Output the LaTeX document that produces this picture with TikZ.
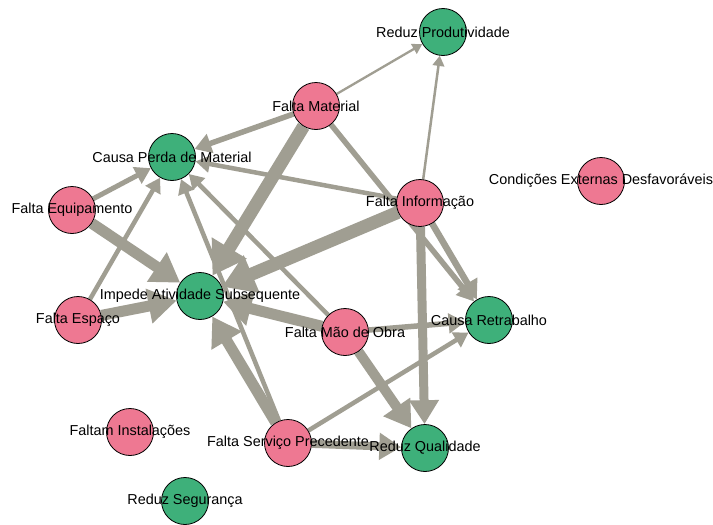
\documentclass[tikz,border=0pt]{standalone}
\usepackage{fontspec}
\setmainfont{Liberation Sans}
\usetikzlibrary{arrows.meta}
\pgfdeclarelayer{canvas}
\pgfdeclarelayer{edges}
\pgfsetlayers{canvas,edges,main}

\definecolor{causefill}{RGB}{238,120,146}
\definecolor{effectfill}{RGB}{62,176,122}
\definecolor{edgegray}{RGB}{160,158,146}

\tikzset{
  vtx/.style={circle, draw=black, line width=0.8pt, minimum size=47pt, inner sep=0pt},
  cause/.style={vtx, fill=causefill},
  effect/.style={vtx, fill=effectfill},
  lbl/.style={font=\fontsize{14.4}{16}\selectfont, inner sep=0pt, text=black},
  edgeln/.style={draw=edgegray, line width=#1pt,
    -{Triangle[length=5pt 2.1, width=5pt 2.6]}},
}

\begin{document}
\begin{tikzpicture}[x=1pt, y=-1pt]
  \begin{pgfonlayer}{canvas}
    \fill[white] (0,0) rectangle (713,525);
  \end{pgfonlayer}
  \useasboundingbox (0,0) rectangle (713,525);

  % vertices: causes (pink) and effects (green)
  \node[effect] (prod)   at (443,32)  {};
  \node[cause]  (mat)    at (316,106) {};
  \node[effect] (perda)  at (172,157) {};
  \node[cause]  (cond)   at (601,181) {};
  \node[cause]  (equip)  at (72,210)  {};
  \node[cause]  (info)   at (420,203) {};
  \node[effect] (impede) at (200,296) {};
  \node[cause]  (espaco) at (78,320)  {};
  \node[cause]  (mao)    at (345,332) {};
  \node[effect] (retrab) at (489,320) {};
  \node[cause]  (inst)   at (130,432) {};
  \node[cause]  (serv)   at (288,443) {};
  \node[effect] (qual)   at (425,448) {};
  \node[effect] (seg)    at (185,501) {};

  % directed, weighted connections behind the vertices
  \begin{pgfonlayer}{edges}
    \draw[edgeln=2.3] (mat) -- (prod);
    \draw[edgeln=2.5] (info) -- (prod);
    \draw[edgeln=5.5] (mat) -- (perda);
    \draw[edgeln=13]  (mat) -- (impede);
    \draw[edgeln=5.5] (mat) -- (retrab);
    \draw[edgeln=4.5] (info) -- (perda);
    \draw[edgeln=13]  (info) -- (impede);
    \draw[edgeln=9]   (info) -- (qual);
    \draw[edgeln=6.5] (info) -- (retrab);
    \draw[edgeln=5]   (equip) -- (perda);
    \draw[edgeln=11]  (equip) -- (impede);
    \draw[edgeln=4.5] (espaco) -- (perda);
    \draw[edgeln=11]  (espaco) -- (impede);
    \draw[edgeln=4.5] (mao) -- (perda);
    \draw[edgeln=11]  (mao) -- (impede);
    \draw[edgeln=5.5] (mao) -- (retrab);
    \draw[edgeln=10]  (mao) -- (qual);
    \draw[edgeln=11]  (serv) -- (impede);
    \draw[edgeln=4.5] (serv) -- (perda);
    \draw[edgeln=4.5] (serv) -- (retrab);
    \draw[edgeln=8]   (serv) -- (qual);
  \end{pgfonlayer}

  % labels on top
  \node[lbl] (lprod)   at (prod)   {Reduz Produtividade};
  \node[lbl] (lmat)    at (mat)    {Falta Material};
  \node[lbl] (lperda)  at (perda)  {Causa Perda de Material};
  \node[lbl] (lcond)   at (cond)   {Condições Externas Desfavoráveis};
  \node[lbl] (lequip)  at (equip)  {Falta Equipamento};
  \node[lbl] (linfo)   at (info)   {Falta Informação};
  \node[lbl] (limpede) at (impede) {Impede Atividade Subsequente};
  \node[lbl] (lespaco) at (espaco) {Falta Espaço};
  \node[lbl] (lmao)    at (mao)    {Falta Mão de Obra};
  \node[lbl] (lretrab) at (retrab) {Causa Retrabalho};
  \node[lbl] (linst)   at (inst)   {Faltam Instalações};
  \node[lbl] (lserv)   at (serv)   {Falta Serviço Precedente};
  \node[lbl] (lqual)   at (qual)   {Reduz Qualidade};
  \node[lbl] (lseg)    at (seg)    {Reduz Segurança};
\end{tikzpicture}
\end{document}
